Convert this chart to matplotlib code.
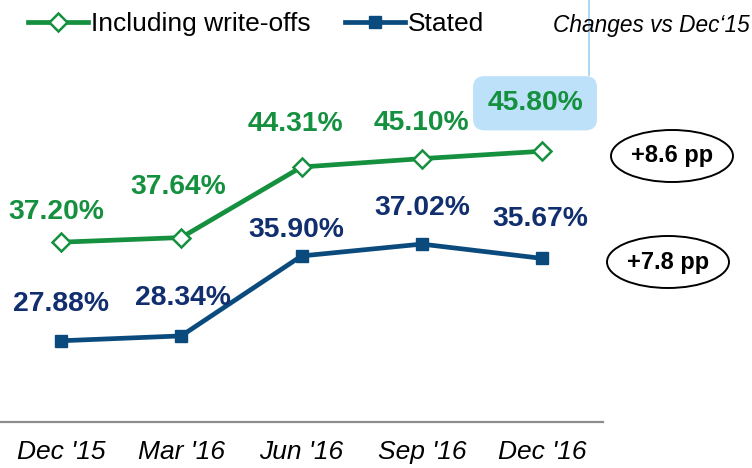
import matplotlib.pyplot as plt
from matplotlib.patches import Ellipse

plt.rcParams['font.family'] = ['Liberation Sans', 'DejaVu Sans']

quarters = ["Dec '15", "Mar '16", "Jun '16", "Sep '16", "Dec '16"]
incl_writeoffs = [37.20, 37.64, 44.31, 45.10, 45.80]
stated = [27.88, 28.34, 35.90, 37.02, 35.67]
change_labels = ["+8.6 pp", "+7.8 pp"]

green = "#14903F"
blue_line = "#0B4A7C"
blue_text = "#112E6E"

# label offsets in pixels (dx, dy) above each point
green_off = [(-5, 30), (-3, 51), (-6, 43), (0, 36), (-7, 48)]
blue_off = [(0, 37), (2, 38), (-5, 26), (1, 36), (-2, 39)]

fig = plt.figure(figsize=(7.52, 4.68), dpi=100)
ax = fig.add_axes([0, 1 - 422 / 468, 603 / 752, 422 / 468])

x = list(range(len(quarters)))
ax.plot(x, incl_writeoffs, color=green, lw=3.4, marker="D", ms=9,
        mfc="white", mec=green, mew=1.8, label="Including write-offs")
ax.plot(x, stated, color=blue_line, lw=3.4, marker="s", ms=9,
        mfc=blue_line, mec=blue_line, label="Stated")

px = 72 / 100
for i, v in enumerate(incl_writeoffs):
    dx, dy = green_off[i]
    kw = {}
    if i == len(incl_writeoffs) - 1:
        kw = dict(bbox=dict(boxstyle="round,pad=0.5,rounding_size=0.4",
                            fc="#BDE1F8", ec="none"))
    ax.annotate(f"{v:.2f}%", (i, v), xytext=(dx * px, dy * px),
                textcoords="offset points", ha="center", va="center",
                fontsize=20.3, fontweight="bold", color=green, **kw)
for i, v in enumerate(stated):
    dx, dy = blue_off[i]
    ax.annotate(f"{v:.2f}%", (i, v), xytext=(dx * px, dy * px),
                textcoords="offset points", ha="center", va="center",
                fontsize=20.3, fontweight="bold", color=blue_text)

ax.set_xlim(-0.507, 4.507)
ax.set_ylim(20.2, 60.1)
for s in ["top", "right", "left"]:
    ax.spines[s].set_visible(False)
ax.spines["bottom"].set_color("#8C8C8C")
ax.spines["bottom"].set_linewidth(1.6)
ax.set_yticks([])
ax.set_xticks(x)
ax.set_xticklabels(quarters, fontsize=19, style="italic")
ax.tick_params(axis="x", length=0, pad=13)

leg = fig.legend(loc="upper left", bbox_to_anchor=(0.005, 1.025), ncol=2,
                 frameon=False, fontsize=19, handlelength=2.3,
                 handletextpad=0.1, columnspacing=1.3)

fig.text(0.997, 0.945, "Changes vs Dec\u201815", ha="right", va="center",
         fontsize=16.3, style="italic")
fig.add_artist(plt.Line2D([589 / 752, 589 / 752], [1, 1 - 75 / 468],
                          color="#9DD0F5", lw=1.2))

# change ellipses (pixel centres)
ell_pos = [(672, 156), (668, 262)]
for (cx, cy), lab in zip(ell_pos, change_labels):
    fig.add_artist(Ellipse((cx / 752, 1 - cy / 468), 122 / 752, 52 / 468,
                           transform=fig.transFigure, fc="white", ec="black",
                           lw=1.4))
    fig.text(cx / 752, 1 - cy / 468, lab, ha="center", va="center",
             fontsize=17, fontweight="bold")

fig.savefig("out.png", dpi=100)
